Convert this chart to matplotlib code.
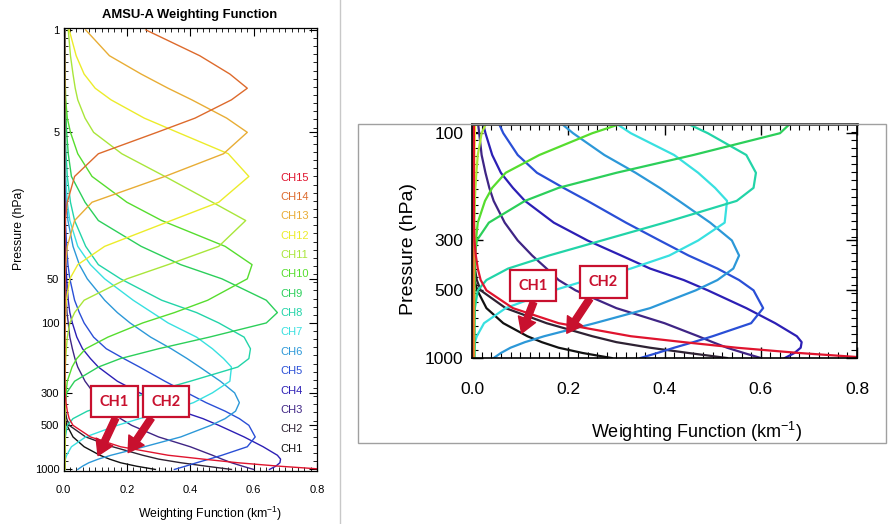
import numpy as np
import matplotlib
matplotlib.use("Agg")
import matplotlib.pyplot as plt
from matplotlib.patches import Rectangle
from matplotlib.lines import Line2D
from matplotlib.ticker import FixedLocator, NullFormatter, MultipleLocator, FormatStrFormatter, FuncFormatter

plt.rcParams["font.family"] = ["Liberation Sans", "DejaVu Sans"]

# pressure levels (hPa), shared by all channels
pressure = [1, 1.5, 2, 2.5, 3, 4, 5, 7, 10, 15,
            20, 30, 40, 50, 70, 85, 100, 125, 150, 175,
            200, 250, 300, 350, 400, 450, 500, 600, 700, 800,
            850, 900, 950, 1000]

# weighting function (km-1) of each channel at the levels above
ch1 = [0.003, 0.003, 0.003, 0.003, 0.003, 0.003, 0.003, 0.003, 0.003, 0.003,
       0.003, 0.003, 0.003, 0.003, 0.003, 0.003, 0.003, 0.003, 0.003, 0.003,
       0.003, 0.003, 0.003, 0.003, 0.004, 0.005, 0.011, 0.03, 0.065, 0.115,
       0.145, 0.18, 0.23, 0.29]
ch2 = [0.003, 0.003, 0.003, 0.003, 0.003, 0.003, 0.003, 0.003, 0.003, 0.003,
       0.003, 0.003, 0.003, 0.003, 0.003, 0.003, 0.003, 0.003, 0.003, 0.003,
       0.003, 0.003, 0.003, 0.004, 0.006, 0.01, 0.018, 0.07, 0.155, 0.25,
       0.30, 0.37, 0.45, 0.53]
ch3 = [0.004, 0.004, 0.004, 0.004, 0.004, 0.004, 0.004, 0.004, 0.004, 0.004,
       0.004, 0.005, 0.006, 0.007, 0.009, 0.011, 0.015, 0.02, 0.028, 0.036,
       0.045, 0.068, 0.095, 0.125, 0.155, 0.18, 0.215, 0.3, 0.4, 0.47,
       0.5, 0.53, 0.565, 0.6]
ch4 = [0.004, 0.004, 0.004, 0.004, 0.004, 0.004, 0.004, 0.004, 0.004, 0.004,
       0.004, 0.006, 0.008, 0.01, 0.015, 0.02, 0.028, 0.042, 0.06, 0.085,
       0.11, 0.17, 0.24, 0.31, 0.37, 0.44, 0.49, 0.57, 0.63, 0.675,
       0.685, 0.683, 0.67, 0.65]
ch5 = [0.005, 0.005, 0.005, 0.005, 0.005, 0.005, 0.005, 0.005, 0.005, 0.005,
       0.006, 0.01, 0.014, 0.02, 0.035, 0.05, 0.065, 0.095, 0.135, 0.19,
       0.24, 0.32, 0.39, 0.45, 0.51, 0.555, 0.585, 0.605, 0.58, 0.5,
       0.46, 0.42, 0.385, 0.35]
ch6 = [0.005, 0.005, 0.005, 0.005, 0.005, 0.005, 0.005, 0.005, 0.006, 0.009,
       0.014, 0.03, 0.05, 0.075, 0.13, 0.17, 0.21, 0.275, 0.34, 0.39,
       0.43, 0.495, 0.54, 0.555, 0.543, 0.51, 0.465, 0.37, 0.255, 0.15,
       0.11, 0.08, 0.06, 0.045]
ch7 = [0.004, 0.004, 0.004, 0.004, 0.004, 0.004, 0.004, 0.005, 0.007, 0.012,
       0.02, 0.045, 0.085, 0.13, 0.22, 0.28, 0.33, 0.42, 0.47, 0.505,
       0.53, 0.525, 0.47, 0.41, 0.33, 0.24, 0.17, 0.07, 0.025, 0.01,
       0.006, 0.005, 0.004, 0.004]
ch8 = [0.004, 0.004, 0.004, 0.004, 0.004, 0.005, 0.006, 0.008, 0.012, 0.022,
       0.035, 0.07, 0.11, 0.18, 0.31, 0.42, 0.49, 0.57, 0.59, 0.585,
       0.55, 0.4, 0.27, 0.16, 0.075, 0.03, 0.012, 0.006, 0.005, 0.005,
       0.005, 0.005, 0.005, 0.005]
ch9 = [0.003, 0.003, 0.004, 0.005, 0.006, 0.008, 0.01, 0.015, 0.025, 0.068,
       0.11, 0.245, 0.37, 0.5, 0.64, 0.675, 0.64, 0.46, 0.3, 0.18,
       0.11, 0.035, 0.01, 0.006, 0.005, 0.005, 0.005, 0.005, 0.005, 0.005,
       0.005, 0.005, 0.005, 0.005]
ch10 = [0.003, 0.004, 0.005, 0.006, 0.007, 0.012, 0.022, 0.045, 0.09, 0.2,
        0.31, 0.51, 0.595, 0.58, 0.455, 0.35, 0.25, 0.14, 0.07, 0.042,
        0.027, 0.012, 0.008, 0.006, 0.005, 0.005, 0.005, 0.004, 0.004, 0.004,
        0.004, 0.004, 0.004, 0.004]
ch11 = [0.015, 0.022, 0.03, 0.037, 0.045, 0.068, 0.095, 0.184, 0.32, 0.47,
        0.575, 0.49, 0.33, 0.2, 0.065, 0.035, 0.02, 0.012, 0.009, 0.007,
        0.006, 0.005, 0.005, 0.004, 0.004, 0.004, 0.004, 0.004, 0.004, 0.004,
        0.004, 0.004, 0.004, 0.004]
ch12 = [0.018, 0.04, 0.065, 0.1, 0.15, 0.255, 0.36, 0.52, 0.585, 0.49,
        0.34, 0.13, 0.045, 0.02, 0.009, 0.007, 0.006, 0.005, 0.005, 0.004,
        0.004, 0.004, 0.004, 0.004, 0.004, 0.004, 0.004, 0.004, 0.004, 0.004,
        0.004, 0.004, 0.004, 0.004]
ch13 = [0.07, 0.145, 0.245, 0.33, 0.405, 0.515, 0.58, 0.505, 0.32, 0.09,
        0.035, 0.012, 0.007, 0.005, 0.004, 0.003, 0.003, 0.003, 0.003, 0.003,
        0.003, 0.003, 0.003, 0.003, 0.003, 0.003, 0.003, 0.003, 0.003, 0.003,
        0.003, 0.003, 0.003, 0.003]
ch14 = [0.26, 0.43, 0.525, 0.58, 0.53, 0.415, 0.295, 0.11, 0.035, 0.012,
        0.006, 0.004, 0.003, 0.003, 0.003, 0.003, 0.003, 0.003, 0.003, 0.003,
        0.003, 0.003, 0.003, 0.003, 0.003, 0.003, 0.003, 0.003, 0.003, 0.003,
        0.003, 0.003, 0.003, 0.003]
ch15 = [0.004, 0.004, 0.004, 0.004, 0.004, 0.004, 0.004, 0.004, 0.004, 0.004,
        0.004, 0.004, 0.004, 0.004, 0.004, 0.004, 0.004, 0.004, 0.004, 0.004,
        0.004, 0.004, 0.005, 0.008, 0.012, 0.018, 0.03, 0.085, 0.18, 0.33,
        0.44, 0.55, 0.68, 0.83]

weights = [ch1, ch2, ch3, ch4, ch5, ch6, ch7, ch8, ch9, ch10, ch11, ch12, ch13, ch14, ch15]
labels = ["CH1", "CH2", "CH3", "CH4", "CH5", "CH6", "CH7", "CH8",
          "CH9", "CH10", "CH11", "CH12", "CH13", "CH14", "CH15"]
colors = ["#111111", "#2e2233", "#3f2585", "#2c1fb5", "#2a4fd6", "#2c98d8", "#38e0e0", "#22d4a8",
          "#2ccf5a", "#56dd2e", "#a9e63a", "#ecec2a", "#e8ad35", "#dd6a2c", "#e0142e"]

left_yticks = [1, 5, 50, 100, 300, 500, 1000]
right_yticks = [100, 300, 500, 1000]
xlabel = r"Weighting Function (km$^{\mathregular{-1}}$)"

W, H = 888, 524
fig = plt.figure(figsize=(W / 100, H / 100), dpi=100)


def px_rect(x0, y0, x1, y1):
    # pixel box measured from the top-left corner -> figure fractions
    return [x0 / W, 1 - y1 / H, (x1 - x0) / W, (y1 - y0) / H]


ax1 = fig.add_axes(px_rect(63.5, 28, 317, 470.7))
ax2 = fig.add_axes(px_rect(472, 124, 857, 358.3))

# -------------------------------
# the curves
# -------------------------------
for w, c in zip(weights, colors):
    ax1.plot(w, pressure, color=c, lw=1.0)
    ax2.plot(w, pressure, color=c, lw=1.6)

pfmt = FuncFormatter(lambda v, pos: f"{v:g}")

# left panel: full AMSU-A plot
ax1.set_yscale("log")
ax1.set_xlim(0, 0.8)
ax1.set_ylim(1020, 0.97)
ax1.xaxis.set_major_locator(MultipleLocator(0.2))
ax1.xaxis.set_minor_locator(MultipleLocator(0.02))
ax1.xaxis.set_major_formatter(FormatStrFormatter("%.1f"))
ax1.yaxis.set_major_locator(FixedLocator(left_yticks))
ax1.yaxis.set_major_formatter(pfmt)
ax1.yaxis.set_minor_locator(FixedLocator(np.logspace(0, 3, 55)))
ax1.yaxis.set_minor_formatter(NullFormatter())
ax1.tick_params(which="both", direction="in", top=True, right=True, labelsize=8)
ax1.tick_params(which="major", length=6, width=0.8)
ax1.tick_params(which="minor", length=3, width=0.6)
ax1.tick_params(axis="x", pad=10)
ax1.tick_params(axis="y", pad=3)
for s in ax1.spines.values():
    s.set_linewidth(0.9)

ax1.set_xlabel(xlabel, fontsize=8.8, va="center")
ax1.xaxis.set_label_coords(0.577, -0.098)
ax1.set_ylabel("Pressure (hPa)", fontsize=8.8, va="center")
ax1.yaxis.set_label_coords(-0.176, 0.546)
fig.text(190 / W, 1 - 15 / H, "AMSU-A Weighting Function", ha="center", va="center",
         fontsize=9.4, fontweight="bold")

# channel names in the line colours
for i, (lab, c) in enumerate(zip(labels, colors)):
    ax1.text(0.855, 0.05 + i * 0.0437, lab, color=c, fontsize=8,
             transform=ax1.transAxes, va="center")

# right panel: zoom on the lower troposphere
ax2.set_yscale("log")
ax2.set_xlim(0, 0.8)
ax2.set_ylim(1003, 91)
ax2.xaxis.set_major_locator(MultipleLocator(0.2))
ax2.xaxis.set_minor_locator(MultipleLocator(0.02))
ax2.xaxis.set_major_formatter(FormatStrFormatter("%.1f"))
ax2.yaxis.set_major_locator(FixedLocator(right_yticks))
ax2.yaxis.set_major_formatter(pfmt)
ax2.yaxis.set_minor_locator(FixedLocator(np.logspace(np.log10(91), 3, 30)))
ax2.yaxis.set_minor_formatter(NullFormatter())
ax2.tick_params(which="both", direction="in", top=True, right=True, labelsize=12.5)
ax2.tick_params(which="major", length=8, width=1.0)
ax2.tick_params(which="minor", length=4, width=0.8)
ax2.tick_params(axis="x", pad=17)
ax2.tick_params(axis="y", pad=6)
for s in ax2.spines.values():
    s.set_linewidth(1.2)
ax2.spines["top"].set_linewidth(2.0)
ax2.spines["top"].set_color("#333333")

ax2.set_xlabel(xlabel, fontsize=13, va="center")
ax2.xaxis.set_label_coords(0.582, -0.316)
ax2.set_ylabel("Pressure (hPa)", fontsize=14, va="center")
ax2.yaxis.set_label_coords(-0.166, 0.466)

# -------------------------------
# CH1 / CH2 callouts
# -------------------------------
red = "#c8102e"
callouts = [
    (ax1, "CH1", (0.161, 344), (0.109, 804), 0.69),
    (ax1, "CH2", (0.323, 344), (0.204, 767), 0.22),
    (ax2, "CH1", (0.127, 477), (0.103, 776), 0.64),
    (ax2, "CH2", (0.273, 460), (0.197, 776), 0.25),
]
for ax, txt, box_xy, tip_xy, rel in callouts:
    ax.annotate(txt, xy=tip_xy, xytext=box_xy, color=red, fontsize=10.5,
                fontweight="bold", family=["Lato", "DejaVu Sans"],
                ha="center", va="center",
                bbox=dict(boxstyle="square,pad=0.6", fc="white", ec=red, lw=1.6),
                arrowprops=dict(arrowstyle="simple,head_length=0.9,head_width=1.1,tail_width=0.4",
                                color=red, mutation_scale=12, shrinkA=0, shrinkB=0,
                                relpos=(rel, 0)))

# -------------------------------
# panel separators
# -------------------------------
fig.add_artist(Line2D([340 / W, 340 / W], [0, 1], color="#c8c8c8", lw=1))
fig.add_artist(Rectangle((358 / W, 1 - 443 / H), (886 - 358) / W, (443 - 124) / H,
                         fill=False, ec="#a0a0a0", lw=1))

fig.savefig("out.png", dpi=100)
plt.close(fig)
